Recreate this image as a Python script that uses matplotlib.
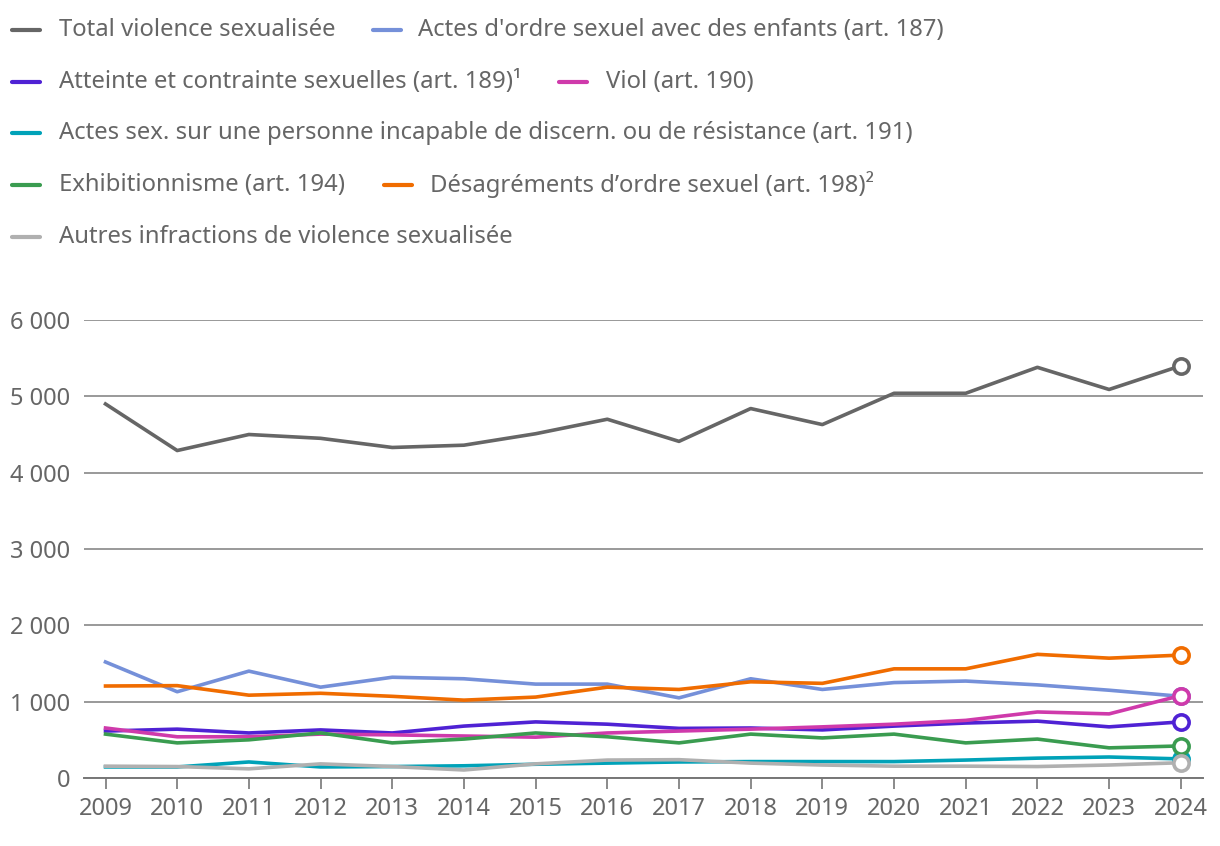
import matplotlib.pyplot as plt
from matplotlib.lines import Line2D

plt.rcParams["font.family"] = ["Noto Sans", "DejaVu Sans"]

years = list(range(2009, 2025))

total = [4900, 4290, 4500, 4450, 4330, 4360, 4510, 4700, 4410, 4840, 4630, 5040, 5040, 5380, 5090, 5400]
art187 = [1520, 1130, 1400, 1190, 1320, 1300, 1230, 1230, 1050, 1300, 1160, 1250, 1270, 1220, 1150, 1070]
art189 = [615, 640, 590, 630, 590, 680, 735, 705, 650, 655, 630, 680, 720, 745, 670, 735]
art190 = [655, 540, 540, 575, 565, 550, 535, 590, 615, 640, 670, 705, 755, 865, 840, 1080]
art191 = [145, 145, 210, 145, 150, 160, 180, 195, 210, 215, 215, 215, 235, 260, 275, 250]
art194 = [575, 460, 500, 590, 460, 510, 590, 540, 460, 575, 525, 575, 460, 510, 395, 420]
art198 = [1205, 1210, 1085, 1110, 1070, 1020, 1060, 1190, 1160, 1260, 1240, 1430, 1430, 1620, 1570, 1610]
autres = [155, 150, 120, 185, 150, 105, 185, 235, 240, 195, 170, 155, 155, 150, 170, 200]

labels = [
    "Total violence sexualisée",
    "Actes d'ordre sexuel avec des enfants (art. 187)",
    "Atteinte et contrainte sexuelles (art. 189)\u00b9",
    "Viol (art. 190)",
    "Actes sex. sur une personne incapable de discern. ou de résistance (art. 191)",
    "Exhibitionnisme (art. 194)",
    "Désagréments d\u2019ordre sexuel (art. 198)\u00b2",
    "Autres infractions de violence sexualisée",
]
colors = ["#666666", "#7590d9", "#4f22d4", "#cf3aab", "#00a2b8", "#3a9c50", "#f06c00", "#b0b0b0"]
series = [total, art187, art189, art190, art191, art194, art198, autres]

TXT = "#666666"
W, H = 1220, 846
fig = plt.figure(figsize=(W / 100, H / 100), dpi=100)
ax = fig.add_axes([84 / W, 1 - 778 / H, (1203 - 84) / W, (778 - 320) / H])

# draw back to front so total/orange sit on top like the reference
order = [7, 4, 5, 3, 2, 1, 6, 0]
for i in order:
    ax.plot(years, series[i], color=colors[i], lw=2.6, zorder=3 + i * 0.1)
    ax.plot(years[-1], series[i][-1], "o", ms=11, mfc="white", mec=colors[i], mew=2.6,
            zorder=5 + i * 0.1, clip_on=False)

ax.set_xlim(2008.7, 2024.31)
ax.set_ylim(0, 6000)
ax.set_yticks(range(0, 6001, 1000))
ax.set_yticklabels(["0", "1 000", "2 000", "3 000", "4 000", "5 000", "6 000"])
ax.set_xticks(years)
ax.set_xticklabels([str(y) for y in years])
ax.grid(axis="y", color="#888888", lw=1.2)
ax.set_axisbelow(True)
for s in ["top", "right", "left"]:
    ax.spines[s].set_visible(False)
ax.spines["bottom"].set_color("#777777")
ax.spines["bottom"].set_linewidth(1.4)
ax.tick_params(axis="y", length=0, pad=10, labelsize=17, labelcolor=TXT)
ax.tick_params(axis="x", length=8, width=1.2, color="#777777", pad=6, labelsize=17, labelcolor=TXT)

# legend, laid out by hand in rows: (series, handle x, text x)
rows = [
    [(0, 12, 59), (1, 373, 418)],
    [(2, 12, 59), (3, 559, 606)],
    [(4, 12, 59)],
    [(5, 12, 59), (6, 384, 430)],
    [(7, 12, 59)],
]
row_y = [30, 82, 133, 185, 237]
for ry, row in zip(row_y, rows):
    for idx, hx, tx in row:
        yf = 1 - ry / H
        fig.add_artist(Line2D([hx / W, (hx + 28) / W], [yf, yf], color=colors[idx], lw=3,
                              solid_capstyle="round", transform=fig.transFigure))
        fig.text(tx / W, yf, labels[idx], color=TXT, fontsize=17.2, va="center", ha="left")

fig.savefig("out.png", dpi=100)
